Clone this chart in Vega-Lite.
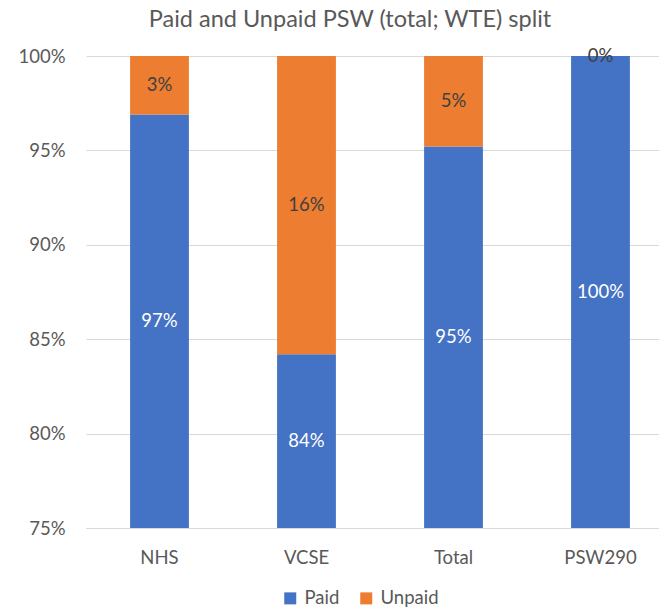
{
  "$schema": "https://vega.github.io/schema/vega-lite/v6.json",
  "width": 588,
  "height": 472,
  "autosize": {"type": "none"},
  "padding": {"left": 86, "top": 56, "right": 0, "bottom": 80},
  "background": "white",
  "title": {
    "text": "Paid and Unpaid PSW (total; WTE) split",
    "font": "Lato",
    "fontSize": 23.5,
    "fontWeight": "normal",
    "color": "#595959",
    "anchor": "middle",
    "dx": -30,
    "offset": 16
  },
  "data": {
    "values": [
      {"category": "NHS", "type": "Paid", "value": 0.969},
      {"category": "NHS", "type": "Unpaid", "value": 0.031},
      {"category": "VCSE", "type": "Paid", "value": 0.842},
      {"category": "VCSE", "type": "Unpaid", "value": 0.158},
      {"category": "Total", "type": "Paid", "value": 0.952},
      {"category": "Total", "type": "Unpaid", "value": 0.048},
      {"category": "PSW290", "type": "Paid", "value": 1.0},
      {"category": "PSW290", "type": "Unpaid", "value": 0.0}
    ]
  },
  "transform": [
    {"stack": "value", "groupby": ["category"], "sort": [{"field": "type", "order": "ascending"}], "as": ["v0", "v1"]},
    {"calculate": "(max(datum.v0, 0.75) + datum.v1) / 2", "as": "mid"}
  ],
  "encoding": {
    "x": {
      "field": "category",
      "type": "nominal",
      "sort": ["NHS", "VCSE", "Total", "PSW290"],
      "scale": {"paddingInner": 0.6, "paddingOuter": 0.3},
      "axis": {
        "title": null,
        "labelAngle": 0,
        "ticks": false,
        "tickSize": 0,
        "domainColor": "#d9d9d9",
        "domainWidth": 1,
        "labelFont": "Lato",
        "labelFontSize": 18.5,
        "labelColor": "#595959",
        "labelPadding": 20,
        "grid": false
      }
    }
  },
  "layer": [
    {
      "mark": {"type": "bar", "clip": true},
      "encoding": {
        "y": {
          "field": "v1",
          "type": "quantitative",
          "scale": {"domain": [0.75, 1], "nice": false, "zero": false},
          "axis": {
            "title": null,
            "format": ".0%",
            "values": [0.75, 0.8, 0.85, 0.9, 0.95, 1.0],
            "domain": false,
            "ticks": false,
            "tickSize": 0,
            "gridColor": "#d9d9d9",
            "gridWidth": 1,
            "labelFont": "Lato",
            "labelFontSize": 18.5,
            "labelColor": "#595959",
            "labelPadding": 21
          }
        },
        "y2": {"field": "v0"},
        "color": {
          "field": "type",
          "type": "nominal",
          "scale": {"domain": ["Paid", "Unpaid"], "range": ["#4472C4", "#ED7D31"]},
          "legend": {
            "title": null,
            "orient": "none",
            "legendX": 195,
            "legendY": 533,
            "direction": "horizontal",
            "symbolType": "square",
            "symbolSize": 144,
            "symbolStrokeWidth": 0,
            "labelFont": "Lato",
            "labelFontSize": 18.5,
            "labelColor": "#595959",
            "labelOffset": 5,
            "columnPadding": 17,
            "padding": 0
          }
        }
      }
    },
    {
      "mark": {"type": "text", "font": "Lato", "fontSize": 18.5, "baseline": "middle", "align": "center"},
      "encoding": {
        "y": {"field": "mid", "type": "quantitative"},
        "text": {"field": "value", "type": "quantitative", "format": ".0%"},
        "color": {
          "condition": {"test": "datum.type === 'Paid'", "value": "#ffffff"},
          "value": "#404040"
        }
      }
    }
  ],
  "config": {
    "view": {"stroke": null}
  }
}
